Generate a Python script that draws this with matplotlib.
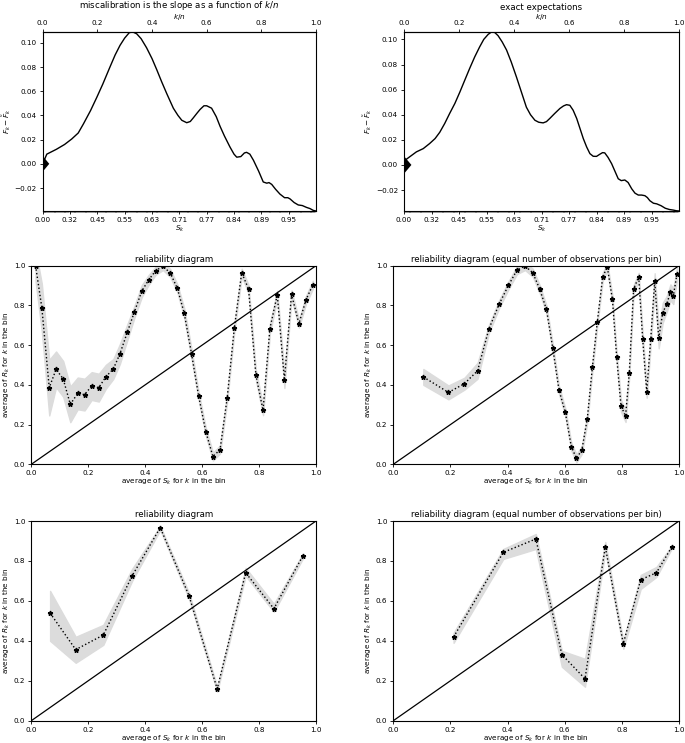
import matplotlib
matplotlib.use("Agg")
import matplotlib.pyplot as plt
import numpy as np

plt.rcParams["font.size"] = 5.2
plt.rcParams["axes.titlesize"] = 6.2
plt.rcParams["axes.labelsize"] = 5.2
plt.rcParams["xtick.labelsize"] = 5.2
plt.rcParams["ytick.labelsize"] = 5.2
plt.rcParams["xtick.major.size"] = 2.5
plt.rcParams["ytick.major.size"] = 2.5
plt.rcParams["xtick.major.pad"] = 1.8
plt.rcParams["ytick.major.pad"] = 1.8
plt.rcParams["xtick.major.width"] = 0.6
plt.rcParams["ytick.major.width"] = 0.6
plt.rcParams["axes.linewidth"] = 0.8
plt.rcParams["mathtext.fontset"] = "dejavusans"

# ---- top row: cumulative differences vs k/n ----
sk_labels = ["0.00", "0.32", "0.45", "0.55", "0.63", "0.71", "0.77", "0.84", "0.89", "0.95"]

cum_x_left = [0.0, 0.015, 0.05, 0.08, 0.106, 0.13, 0.149, 0.175, 0.198, 0.22, 0.246,
              0.265, 0.283, 0.30, 0.317, 0.33, 0.344, 0.36, 0.38, 0.40, 0.417, 0.435,
              0.454, 0.478, 0.495, 0.509, 0.527, 0.54, 0.551, 0.565, 0.576, 0.59, 0.60,
              0.618, 0.635, 0.649, 0.665, 0.685, 0.70, 0.71, 0.725, 0.738, 0.746, 0.758,
              0.771, 0.79, 0.807, 0.82, 0.828, 0.838, 0.852, 0.868, 0.885, 0.897, 0.905,
              0.92, 0.935, 0.95, 0.965, 0.978, 0.99, 1.0]
cum_y_left = [0.0, 0.008, 0.012, 0.016, 0.0205, 0.0255, 0.033, 0.044, 0.055, 0.066, 0.080,
              0.090, 0.098, 0.104, 0.1085, 0.109, 0.1075, 0.1035, 0.096, 0.087, 0.078, 0.068,
              0.058, 0.046, 0.040, 0.036, 0.034, 0.035, 0.038, 0.042, 0.045, 0.048, 0.048,
              0.046, 0.039, 0.031, 0.023, 0.014, 0.008, 0.0055, 0.006, 0.009, 0.0095, 0.008,
              0.003, -0.006, -0.015, -0.016, -0.0155, -0.017, -0.021, -0.025, -0.028, -0.028, -0.029,
              -0.032, -0.034, -0.0345, -0.036, -0.037, -0.0385, -0.039]

cum_x_right = [0.0, 0.0085, 0.045, 0.07, 0.093, 0.113, 0.13, 0.148, 0.166, 0.185, 0.203,
               0.22, 0.239, 0.257, 0.275, 0.29, 0.306, 0.318, 0.33, 0.342, 0.357, 0.373,
               0.39, 0.409, 0.427, 0.445, 0.46, 0.476, 0.49, 0.506, 0.518, 0.530, 0.548,
               0.567, 0.58, 0.591, 0.603, 0.615, 0.628, 0.64, 0.652, 0.664, 0.676, 0.688,
               0.70, 0.712, 0.722, 0.73, 0.742, 0.755, 0.767, 0.779, 0.79, 0.803, 0.815,
               0.828, 0.84, 0.852, 0.864, 0.876, 0.885, 0.894, 0.907, 0.919, 0.935, 0.95,
               0.965, 0.98, 0.99, 1.0]
cum_y_right = [0.0, 0.0045, 0.0104, 0.013, 0.017, 0.021, 0.026, 0.033, 0.041, 0.049, 0.058,
               0.067, 0.077, 0.086, 0.094, 0.100, 0.104, 0.1059, 0.1055, 0.103, 0.098, 0.0915,
               0.082, 0.070, 0.058, 0.046, 0.040, 0.0356, 0.034, 0.0335, 0.0345, 0.037, 0.041,
               0.045, 0.047, 0.048, 0.0475, 0.0436, 0.037, 0.029, 0.021, 0.0144, 0.009, 0.0069,
               0.0068, 0.0085, 0.0098, 0.0096, 0.006, 0.001, -0.005, -0.011, -0.0125, -0.012, -0.014,
               -0.019, -0.0225, -0.024, -0.024, -0.0245, -0.026, -0.0285, -0.0305, -0.031, -0.0325, -0.0345,
               -0.0355, -0.036, -0.0365, -0.0367]

tri_height = [0.0065, 0.007]
tri_width = [0.024, 0.027]

# ---- middle row: reliability diagrams, 40 bins ----
ml_x = [0.015, 0.037, 0.063, 0.087, 0.112, 0.137, 0.163, 0.187, 0.212, 0.237,
        0.262, 0.288, 0.311, 0.337, 0.362, 0.388, 0.412, 0.437, 0.4625, 0.488,
        0.513, 0.537, 0.563, 0.588, 0.613, 0.638, 0.663, 0.688, 0.713, 0.739,
        0.763, 0.789, 0.814, 0.838, 0.864, 0.889, 0.914, 0.94, 0.965, 0.989]
ml_y = [1.0, 0.789, 0.386, 0.478, 0.43, 0.302, 0.357, 0.351, 0.394, 0.386,
        0.441, 0.48, 0.555, 0.664, 0.767, 0.872, 0.928, 0.975, 0.998, 0.963,
        0.886, 0.762, 0.555, 0.342, 0.164, 0.039, 0.074, 0.334, 0.685, 0.965,
        0.883, 0.448, 0.272, 0.683, 0.854, 0.424, 0.856, 0.708, 0.829, 0.904]
ml_spread = [0.08, 0.12, 0.14, 0.09, 0.09, 0.09, 0.08, 0.08, 0.07, 0.07,
             0.06, 0.05, 0.05, 0.04, 0.03, 0.03, 0.025, 0.02, 0.02, 0.02,
             0.02, 0.025, 0.025, 0.02, 0.02, 0.02, 0.02, 0.02, 0.02, 0.02,
             0.02, 0.025, 0.025, 0.025, 0.02, 0.04, 0.02, 0.02, 0.02, 0.02]

mr_x = [0.105, 0.193, 0.249, 0.295, 0.335, 0.370, 0.403, 0.433, 0.461, 0.488,
        0.512, 0.536, 0.558, 0.580, 0.602, 0.623, 0.641, 0.660, 0.679, 0.697,
        0.714, 0.733, 0.749, 0.767, 0.782, 0.797, 0.813, 0.826, 0.841, 0.859,
        0.873, 0.887, 0.901, 0.915, 0.929, 0.943, 0.957, 0.970, 0.980, 0.993]
mr_y = [0.44, 0.362, 0.406, 0.471, 0.683, 0.805, 0.901, 0.978, 0.998, 0.965,
        0.884, 0.780, 0.587, 0.374, 0.262, 0.089, 0.030, 0.072, 0.230, 0.491,
        0.716, 0.944, 0.994, 0.830, 0.538, 0.294, 0.243, 0.461, 0.882, 0.944,
        0.629, 0.365, 0.629, 0.922, 0.634, 0.763, 0.807, 0.866, 0.847, 0.958]
mr_spread = [0.04, 0.035, 0.03, 0.04, 0.02, 0.02, 0.02, 0.02, 0.02, 0.02,
             0.02, 0.02, 0.02, 0.02, 0.02, 0.02, 0.02, 0.02, 0.02, 0.02,
             0.02, 0.02, 0.02, 0.02, 0.02, 0.03, 0.03, 0.02, 0.02, 0.02,
             0.03, 0.03, 0.03, 0.04, 0.05, 0.05, 0.04, 0.04, 0.04, 0.03]

# ---- bottom row: reliability diagrams, 10 bins ----
bl_x = [0.066, 0.156, 0.253, 0.354, 0.453, 0.554, 0.653, 0.753, 0.852, 0.953]
bl_y = [0.539, 0.356, 0.429, 0.725, 0.967, 0.626, 0.159, 0.741, 0.561, 0.823]
bl_lo = [0.40, 0.29, 0.38, 0.70, 0.955, 0.61, 0.145, 0.725, 0.545, 0.81]
bl_hi = [0.65, 0.42, 0.48, 0.76, 0.975, 0.64, 0.17, 0.765, 0.585, 0.835]

br_x = [0.211, 0.385, 0.499, 0.590, 0.671, 0.742, 0.805, 0.866, 0.921, 0.974]
br_y = [0.419, 0.843, 0.910, 0.331, 0.210, 0.871, 0.386, 0.706, 0.741, 0.868]
br_lo = [0.39, 0.81, 0.86, 0.27, 0.17, 0.85, 0.36, 0.66, 0.72, 0.86]
br_hi = [0.44, 0.86, 0.935, 0.35, 0.31, 0.895, 0.40, 0.73, 0.77, 0.875]

W, H = 685, 743
fig = plt.figure(figsize=(W / 100, H / 100), dpi=100)


def px_axes(left, top, right, bottom):
    return fig.add_axes([left / W, 1 - bottom / H, (right - left) / W, (bottom - top) / H])


def cumulative(ax, xs, ys, th, tw, title):
    ax.plot(xs, ys, color="k", linewidth=1.0)
    ax.fill([0, tw, 0], [-th, 0, th], color="k", linewidth=0)
    ax.set_xlim(0, 1)
    ax.set_ylim(min(ys), max(ys))
    ax.set_xticks(np.arange(10) / 10)
    ax.set_xticklabels(sk_labels)
    ax.set_xticks(np.arange(300) / 300, minor=True)
    ax.tick_params(axis="x", which="minor", length=1.5, width=0.3)
    ax.set_xlabel("$S_k$", labelpad=0.5)
    ax.set_ylabel(r"$F_k - \tilde{F}_k$", labelpad=1)
    top_ax = ax.secondary_xaxis("top")
    top_ax.set_xticks(np.arange(6) / 5)
    top_ax.set_xlabel("$k/n$", labelpad=1)
    ax.set_title(title, pad=0.5)


def reliability(ax, xs, ys, lo, hi, title):
    ax.fill_between(xs, lo, hi, color="#dcdcdc", linewidth=1.0, edgecolor="#dcdcdc")
    ax.plot([0, 1], [0, 1], color="k", linewidth=0.9)
    ax.plot(xs, ys, "k*:", markersize=3.5, linewidth=1.0)
    ax.set_xlim(0, 1)
    ax.set_ylim(0, 1)
    ax.set_xticks(np.linspace(0, 1, 6))
    ax.set_yticks(np.linspace(0, 1, 6))
    ax.set_xlabel("average of $S_k$ for $k$ in the bin", labelpad=0.5)
    ax.set_ylabel("average of $R_k$ for $k$ in the bin", labelpad=1)
    ax.set_title(title, pad=3)


ax = px_axes(42.7, 32, 316, 211)
cumulative(ax, cum_x_left, cum_y_left, tri_height[0], tri_width[0],
           "miscalibration is the slope as a function of $k/n$")
ax = px_axes(404, 32, 679, 211)
cumulative(ax, cum_x_right, cum_y_right, tri_height[1], tri_width[1], "exact expectations")

ml_lo = np.array(ml_y) - np.array(ml_spread)
ml_hi = np.array(ml_y) + np.array(ml_spread)
ax = px_axes(31.3, 265.7, 316, 464.3)
reliability(ax, ml_x, ml_y, ml_lo, ml_hi, "reliability diagram")

mr_lo = np.array(mr_y) - np.array(mr_spread)
mr_hi = np.array(mr_y) + np.array(mr_spread)
ax = px_axes(393.3, 265.7, 679, 464.3)
reliability(ax, mr_x, mr_y, mr_lo, mr_hi,
            "reliability diagram (equal number of observations per bin)")

ax = px_axes(31.3, 521, 316, 720.7)
reliability(ax, bl_x, bl_y, bl_lo, bl_hi, "reliability diagram")
ax = px_axes(393.3, 521, 679, 720.7)
reliability(ax, br_x, br_y, br_lo, br_hi,
            "reliability diagram (equal number of observations per bin)")

fig.savefig("out.png", dpi=100)
